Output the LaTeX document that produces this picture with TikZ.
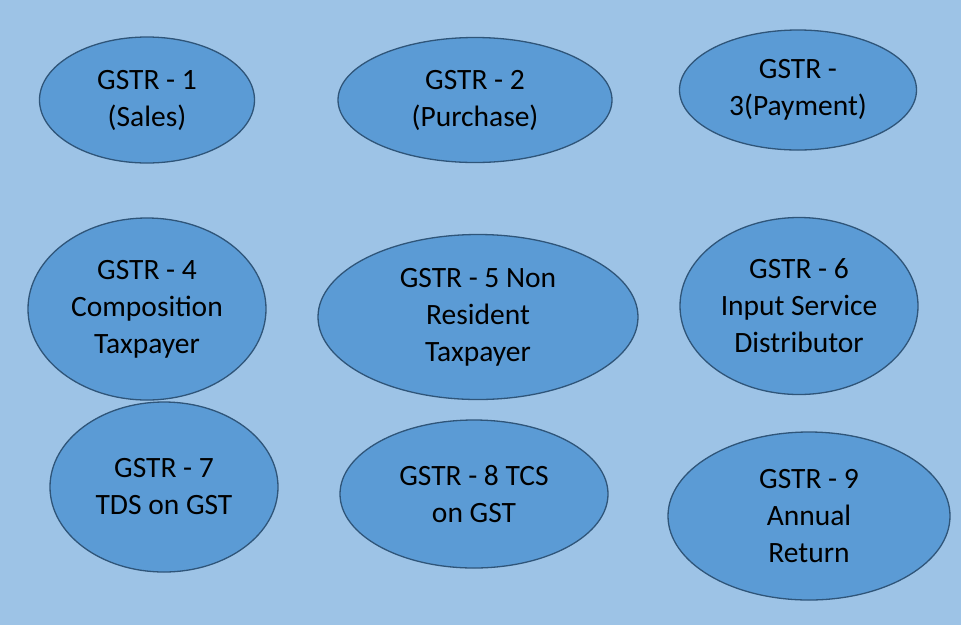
\documentclass[tikz,border=0pt]{standalone}
\usepackage{fontspec}
\setmainfont{Carlito}
\usetikzlibrary{shapes.geometric}
\definecolor{pageblue}{HTML}{9DC3E6}
\definecolor{ovalblue}{HTML}{5B9BD5}
\definecolor{rimblue}{HTML}{2F5579}
\tikzset{
    retoval/.style={ellipse, draw=rimblue, line width=1.3pt, fill=ovalblue,
        inner sep=0pt, align=center,
        font=\fontsize{29.5}{37}\selectfont}
}
\begin{document}
\begin{tikzpicture}[x=1pt, y=-1pt]
            \useasboundingbox (0, 0) rectangle (961, 625);
            \fill[pageblue] (0, 0) rectangle (961, 625);
            \foreach \n/\x/\y/\w/\h/\t in {
                g1/147/100/215/126/{GSTR - 1\\(Sales)},
                g2/475/100/274/125/{GSTR - 2\\(Purchase)},
                g3/798/90/237/120/{GSTR -\\3(Payment)},
                g4/147/309/238/182/{GSTR - 4\\Composition\\Taxpayer},
                g5/478/317/320/165/{GSTR - 5 Non\\Resident\\Taxpayer},
                g6/799/306/238/177/{GSTR - 6\\Input Service\\Distributor},
                g7/164/487/228/170/{GSTR - 7\\TDS on GST},
                g8/474/494/268/148/{GSTR - 8 TCS\\on GST},
                g9/809/516/282/168/{GSTR - 9\\Annual\\Return}} {
                \node[retoval, minimum width=\w pt, minimum height=\h pt]
                    (\n) at (\x, \y) {\t};
            }
        \end{tikzpicture}
\end{document}
